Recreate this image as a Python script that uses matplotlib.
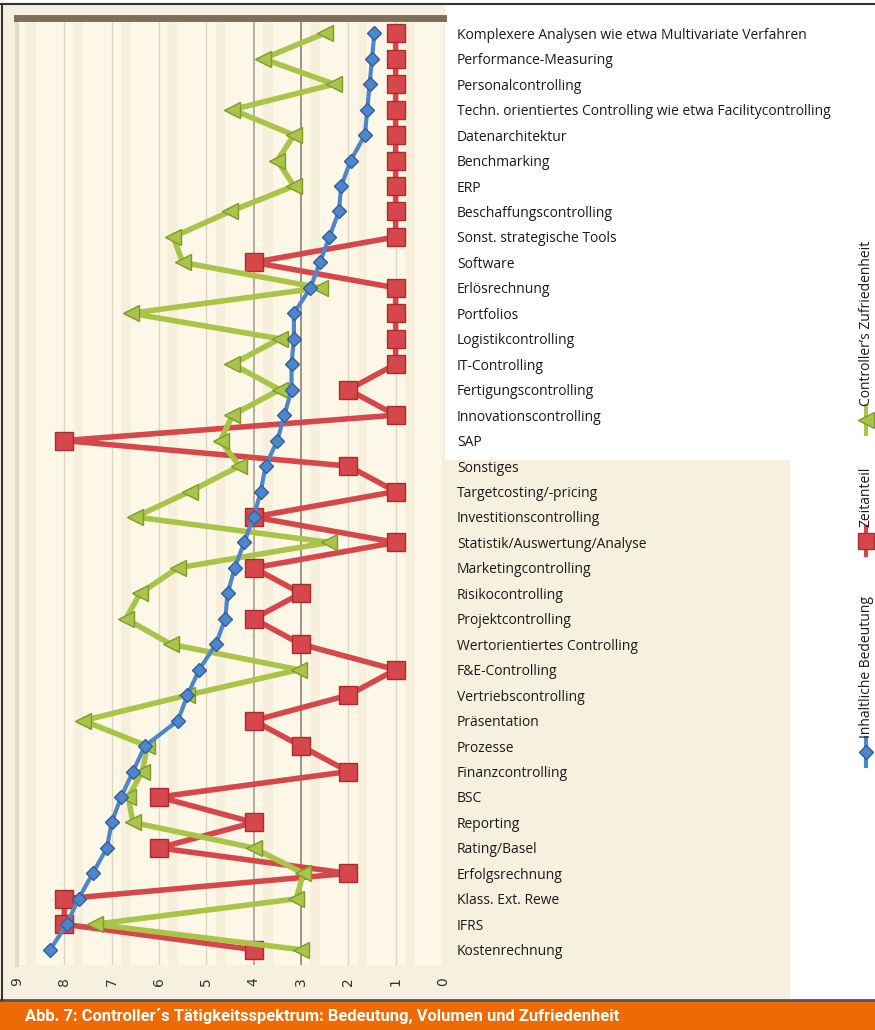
import matplotlib
matplotlib.use("Agg")
import matplotlib.pyplot as plt
from matplotlib.lines import Line2D
from matplotlib.patches import Rectangle
import numpy as np

# --- data ---------------------------------------------------------------
categories = [
    "Komplexere Analysen wie etwa Multivariate Verfahren",
    "Performance-Measuring",
    "Personalcontrolling",
    "Techn. orientiertes Controlling wie etwa Facilitycontrolling",
    "Datenarchitektur",
    "Benchmarking",
    "ERP",
    "Beschaffungscontrolling",
    "Sonst. strategische Tools",
    "Software",
    "Erlösrechnung",
    "Portfolios",
    "Logistikcontrolling",
    "IT-Controlling",
    "Fertigungscontrolling",
    "Innovationscontrolling",
    "SAP",
    "Sonstiges",
    "Targetcosting/-pricing",
    "Investitionscontrolling",
    "Statistik/Auswertung/Analyse",
    "Marketingcontrolling",
    "Risikocontrolling",
    "Projektcontrolling",
    "Wertorientiertes Controlling",
    "F&E-Controlling",
    "Vertriebscontrolling",
    "Präsentation",
    "Prozesse",
    "Finanzcontrolling",
    "BSC",
    "Reporting",
    "Rating/Basel",
    "Erfolgsrechnung",
    "Klass. Ext. Rewe",
    "IFRS",
    "Kostenrechnung",
]

bedeutung = [1.45, 1.5, 1.55, 1.6, 1.65, 1.95, 2.15, 2.2, 2.4, 2.6, 2.8, 3.15,
             3.15, 3.2, 3.2, 3.35, 3.5, 3.75, 3.85, 4.0, 4.2, 4.4, 4.55, 4.6,
             4.8, 5.15, 5.4, 5.6, 6.3, 6.55, 6.8, 7.0, 7.1, 7.4, 7.7, 7.95, 8.3]

zeitanteil = [1, 1, 1, 1, 1, 1, 1, 1, 1, 4, 1, 1, 1, 1, 2, 1, 8, 2, 1, 4, 1, 4,
              3, 4, 3, 1, 2, 4, 3, 2, 6, 4, 6, 2, 8, 8, 4]

zufriedenheit = [2.5, 3.8, 2.3, 4.45, 3.15, 3.5, 3.15, 4.5, 5.7, 5.5, 2.6, 6.6,
                 3.45, 4.45, 3.45, 4.45, 4.7, 4.3, 5.35, 6.5, 2.4, 5.6, 6.4,
                 6.7, 5.75, 3.05, 5.4, 7.6, 6.25, 6.35, 6.65, 6.55, 4.0, 2.95,
                 3.1, 7.35, 3.0]

x_ticks = [9, 8, 7, 6, 5, 4, 3, 2, 1, 0]

series_names = ["Inhaltliche Bedeutung", "Zeitanteil", "Controller’s Zufriedenheit"]
caption = "Abb. 7: Controller´s Tätigkeitsspektrum: Bedeutung, Volumen und Zufriedenheit"

# --- style --------------------------------------------------------------
W, H = 875, 1030
DPI = 100
BLUE, BLUE_EDGE = "#4f86c9", "#2f5f9e"
RED, RED_EDGE = "#d5474b", "#a82c30"
GREEN, GREEN_EDGE = "#a9c449", "#7f9a2c"
CREAM = "#fcf7e6"
BEIGE = "#f7f0de"
ORANGE = "#ee6a05"
LABEL_FONT = ["Open Sans", "DejaVu Sans"]

fig = plt.figure(figsize=(W / DPI, H / DPI), dpi=DPI)
fig.patch.set_facecolor("white")


def fx(px):
    return px / W


def fy(py):
    return 1 - py / H


# beige page background behind the lower half and the chart block
fig.patches.append(Rectangle((fx(0), fy(1000)), fx(790), fy(460) - fy(1000),
                             transform=fig.transFigure, facecolor=BEIGE,
                             edgecolor="none", zorder=0))
fig.patches.append(Rectangle((fx(0), fy(1000)), fx(445), fy(5) - fy(1000),
                             transform=fig.transFigure, facecolor=BEIGE,
                             edgecolor="none", zorder=0))
# caption banner
fig.patches.append(Rectangle((0, 0), 1, fy(1000), transform=fig.transFigure,
                             facecolor=ORANGE, edgecolor="none", zorder=1))
fig.lines.append(Line2D([0, 1], [fy(1000), fy(1000)], transform=fig.transFigure,
                        color="#555555", lw=2, zorder=2))
# frame lines
fig.lines.append(Line2D([0, 1], [fy(4), fy(4)], transform=fig.transFigure,
                        color="#333333", lw=1.5, zorder=2))
fig.lines.append(Line2D([fx(1.5), fx(1.5)], [fy(4), fy(1000)],
                        transform=fig.transFigure, color="#333333", lw=1.5, zorder=2))

# --- chart --------------------------------------------------------------
ax = fig.add_axes([fx(17), fy(965), fx(443) - fx(17), fy(18) - fy(965)])
ax.set_zorder(3)
ax.set_facecolor(CREAM)

ypos = np.arange(len(categories))
ax.set_ylim(len(categories) - 0.4, -0.6)
ax.set_xlim(9, 0)

# soft vertical banding of the plot background
for v in np.arange(0, 9, 1.0):
    ax.axvspan(v + 0.6, v + 0.8, color="#f6efdb", lw=0, zorder=0)
for v in x_ticks:
    c = {3: "#8a8474", 4: "#a8a292"}.get(v, "#ddd6c4")
    ax.axvline(v, color=c, lw=1.2 if v in (3, 4) else 1.0, zorder=1)

ax.plot(zeitanteil, ypos, color=RED, lw=4, marker="s", ms=13,
        mfc=RED, mec=RED_EDGE, mew=1, zorder=3, label=series_names[1])
ax.plot(zufriedenheit, ypos, color=GREEN, lw=4, marker="<", ms=12,
        mfc=GREEN, mec=GREEN_EDGE, mew=1, zorder=4, label=series_names[2])
ax.plot(bedeutung, ypos, color=BLUE, lw=3, marker="D", ms=7.5,
        mfc=BLUE, mec=BLUE_EDGE, mew=1, zorder=5, label=series_names[0])

# category labels on the right
ax.yaxis.tick_right()
ax.set_yticks(ypos)
ax.set_yticklabels(categories)
ax.tick_params(axis="y", length=0, pad=10)

# value axis at the bottom, labels turned sideways
ax.set_xticks(x_ticks)
ax.set_xticklabels([str(v) for v in x_ticks], rotation=90, va="top")
ax.tick_params(axis="x", length=0, pad=9, labelsize=10, labelcolor="#333333")
for lab in ax.get_xticklabels():
    lab.set_fontfamily(["DejaVu Sans"])

for s in ax.spines.values():
    s.set_visible(False)
ax.spines["top"].set_visible(True)
ax.spines["top"].set_color("#7d705a")
ax.spines["top"].set_linewidth(5)
ax.spines["left"].set_visible(True)
ax.spines["left"].set_color("#e3dccb")
ax.spines["left"].set_linewidth(3)

# fit the category font so the longest labels span the label column
renderer = fig.canvas.get_renderer()
size = 11.0
for lab in ax.get_yticklabels():
    lab.set_fontfamily(LABEL_FONT)
    lab.set_color("#1a1a1a")
for _ in range(4):
    for lab in ax.get_yticklabels():
        lab.set_fontsize(size)
    w = ax.get_yticklabels()[0].get_window_extent(renderer).width
    size *= 351.0 / w

# --- legend (rotated, stacked along the right edge) ---------------------
legend_specs = [
    (series_names[0], BLUE, BLUE_EDGE, "D", 7, 752),
    (series_names[1], RED, RED_EDGE, "s", 11, 541),
    (series_names[2], GREEN, GREEN_EDGE, "<", 11, 420),
]
lx = 866
for name, col, edge, mk, ms, py in legend_specs:
    fig.lines.append(Line2D([fx(lx), fx(lx)], [fy(py + 14), fy(py - 14)],
                            transform=fig.transFigure, color=col, lw=3, zorder=5))
    fig.lines.append(Line2D([fx(lx)], [fy(py)], transform=fig.transFigure,
                            marker=mk, ms=ms, mfc=col, mec=edge, color=col, zorder=6))
    fig.text(fx(lx), fy(py - 14), name, rotation=90, ha="center", va="bottom",
             fontsize=size, family=LABEL_FONT, color="#1a1a1a", zorder=6)

# caption
cap = fig.text(fx(25), fy(1016), caption, ha="left", va="center",
               color="white", fontsize=14, fontweight="bold",
               family=["Liberation Sans Narrow", "Roboto", "DejaVu Sans"], zorder=3)
cw = cap.get_window_extent(renderer).width
cap.set_fontsize(14 * 595.0 / cw)

fig.savefig("out.png", dpi=DPI, facecolor=fig.get_facecolor())
